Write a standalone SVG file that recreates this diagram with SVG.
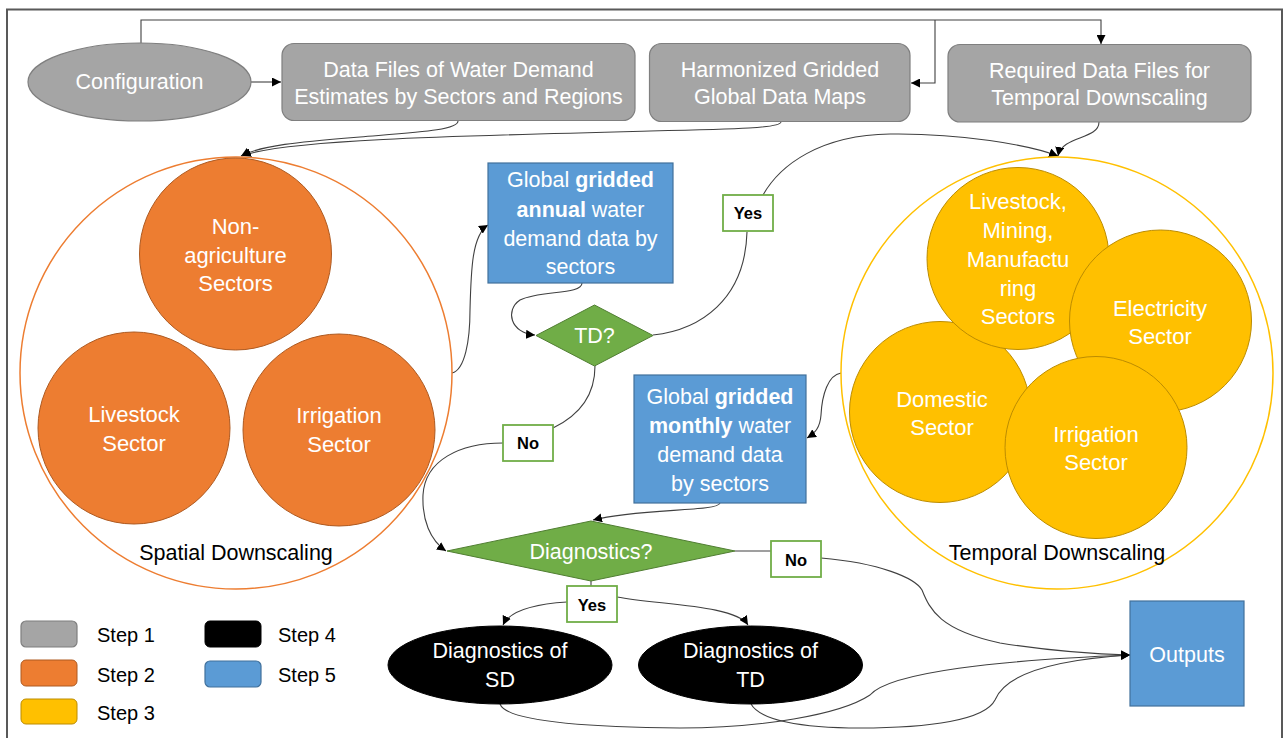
<svg xmlns="http://www.w3.org/2000/svg" width="1286" height="738" viewBox="0 0 1286 738">
<defs>
<marker id="arr" viewBox="0 0 10 10" refX="10" refY="5" markerWidth="9" markerHeight="9" markerUnits="userSpaceOnUse" orient="auto">
<path d="M0,0 L10,5 L0,10 z" fill="#000"/>
</marker>
<style>
text{font-family:"Liberation Sans",Arial,sans-serif;text-anchor:middle}
.w{fill:#fff;font-size:21.5px}
.c{fill:#fff;font-size:22px}
.k{fill:#000;font-size:21.5px}
.lb{fill:#000;font-size:16.5px;font-weight:bold}
.lg{fill:#000;font-size:20px;text-anchor:start}
.gray{fill:#A5A5A5;stroke:#7F7F7F;stroke-width:1.2}
.or{fill:#ED7D31;stroke:#AE5A21;stroke-width:1}
.ye{fill:#FFC000;stroke:#BC8C00;stroke-width:1}
.bl{fill:#5B9BD5;stroke:#41719C;stroke-width:1.2}
.gr{fill:#70AD47;stroke:#507E32;stroke-width:1}
.blk{fill:#000;stroke:#000;stroke-width:1}
.lab{fill:#fff;stroke:#70AD47;stroke-width:1.8}
.cn{fill:none;stroke:#404040;stroke-width:1.1}
.ca{fill:none;stroke:#404040;stroke-width:1.1;marker-end:url(#arr)}
</style>
</defs>
<rect x="0" y="0" width="1286" height="738" fill="#fff"/>
<rect x="7" y="9.5" width="1275" height="740" fill="none" stroke="#595959" stroke-width="2"/>

<g id="connectors">
<path class="ca" d="M251,82 H281"/>
<path class="ca" d="M141,43 V20 H1101 V44"/>
<path class="ca" d="M935,20 V83 H911"/>
<path class="ca" d="M458,121 C458,130 420,132 360,137 C300,142 262,145 241,156"/>
<path class="ca" d="M781,122 C780,128 740,129 650,131 C450,136 282,140 242,156"/>
<path class="ca" d="M1099,122 C1099,140 1062,135 1058,156"/>
<path class="ca" d="M452,373 C465,370 470,340 470,310 C471,270 472,235 488,225"/>
<path class="ca" d="M582,283 C582,295 540,290 520,300 C505,310 510,333 535,335"/>
<path class="cn" d="M653,335 C700,330 745,300 747,232"/>
<path class="ca" d="M763,195 C780,165 820,135 890,134 C960,133 1030,145 1058,156"/>
<path class="cn" d="M595,366 C595,395 580,415 553,428"/>
<path class="ca" d="M503,443 C460,443 425,460 423,495 C422,520 430,540 446,551"/>
<path class="ca" d="M841,373 C828,375 822,395 821,415 C820,428 815,433 807,438"/>
<path class="ca" d="M720,503 C718,512 640,508 593,520"/>
<path class="cn" d="M591,581 V586"/>
<path class="ca" d="M567,602 C535,604 510,610 503,625"/>
<path class="ca" d="M617,597 C660,605 735,605 748,625"/>
<path class="cn" d="M735,551 H771"/>
<path class="ca" d="M821,558 C880,563 915,578 922,590 C930,610 940,630 1000,643 C1050,651 1090,654 1130,655"/>
<path class="ca" d="M500,704 C505,718 560,727 680,728 C760,728 840,715 870,695 C890,672 1000,660 1130,655"/>
<path class="ca" d="M751,704 C760,720 800,728 860,728 C930,728 985,720 995,700 C1005,675 1050,660 1130,655"/>
</g>

<g id="configuration">
<ellipse class="gray" cx="139.5" cy="82" rx="111.5" ry="39"/>
<text class="w" x="139.5" y="89">Configuration</text>
</g>
<g id="data-files">
<rect class="gray" x="282" y="43.5" width="353" height="77" rx="12"/>
<text class="w" x="458.5" y="77">Data Files of Water Demand</text>
<text class="w" x="458.5" y="104">Estimates by Sectors and Regions</text>
</g>
<g id="harmonized">
<rect class="gray" x="649.5" y="43.5" width="260.5" height="78" rx="12"/>
<text class="w" x="780" y="77">Harmonized Gridded</text>
<text class="w" x="780" y="104">Global Data Maps</text>
</g>
<g id="required">
<rect class="gray" x="948" y="44.5" width="303" height="77.5" rx="12"/>
<text class="w" x="1099.5" y="78">Required Data Files for</text>
<text class="w" x="1099.5" y="105">Temporal Downscaling</text>
</g>

<g id="spatial-downscaling">
<circle cx="236" cy="373" r="216" fill="none" stroke="#ED7D31" stroke-width="1.5"/>
<text class="k" x="236" y="560">Spatial Downscaling</text>
</g>
<g id="non-agriculture">
<circle class="or" cx="235.5" cy="254" r="96"/>
<text class="c" x="235.5" y="234">Non-</text>
<text class="c" x="235.5" y="263">agriculture</text>
<text class="c" x="235.5" y="291">Sectors</text>
</g>
<g id="livestock-sd">
<circle class="or" cx="134" cy="428" r="96"/>
<text class="c" x="134" y="422">Livestock</text>
<text class="c" x="134" y="451">Sector</text>
</g>
<g id="irrigation-sd">
<circle class="or" cx="339" cy="430" r="96"/>
<text class="c" x="339" y="423">Irrigation</text>
<text class="c" x="339" y="452">Sector</text>
</g>

<g id="temporal-downscaling">
<circle cx="1057" cy="373" r="216" fill="none" stroke="#FFC000" stroke-width="1.5"/>
<text class="k" x="1057" y="560">Temporal Downscaling</text>
</g>
<g id="domestic">
<circle class="ye" cx="940" cy="412" r="90.5"/>
<text class="c" x="942" y="407">Domestic</text>
<text class="c" x="942" y="435">Sector</text>
</g>
<g id="livestock-mining">
<circle class="ye" cx="1018" cy="258.5" r="91"/>
<text class="c" x="1018" y="209">Livestock,</text>
<text class="c" x="1018" y="238">Mining,</text>
<text class="c" x="1018" y="267">Manufactu</text>
<text class="c" x="1018" y="296">ring</text>
<text class="c" x="1018" y="324">Sectors</text>
</g>
<g id="electricity">
<circle class="ye" cx="1160.5" cy="321" r="91"/>
<text class="c" x="1160" y="316">Electricity</text>
<text class="c" x="1160" y="344">Sector</text>
</g>
<g id="irrigation-td">
<circle class="ye" cx="1096" cy="447.5" r="91"/>
<text class="c" x="1096" y="442">Irrigation</text>
<text class="c" x="1096" y="470">Sector</text>
</g>

<g id="annual">
<rect class="bl" x="488" y="163" width="185" height="120"/>
<text class="w" x="580.5" y="187">Global <tspan font-weight="bold">gridded</tspan></text>
<text class="w" x="580.5" y="217"><tspan font-weight="bold">annual</tspan> water</text>
<text class="w" x="580.5" y="246">demand data by</text>
<text class="w" x="580.5" y="274">sectors</text>
</g>
<g id="td-decision">
<polygon class="gr" points="536,335.5 594.5,305 653,335.5 594.5,366"/>
<text class="w" x="594.5" y="343">TD?</text>
</g>
<g id="yes-td">
<rect class="lab" x="723" y="195" width="50" height="36"/>
<text class="lb" x="748" y="219">Yes</text>
</g>
<g id="no-td">
<rect class="lab" x="503" y="425" width="50" height="36"/>
<text class="lb" x="528" y="449">No</text>
</g>
<g id="monthly">
<rect class="bl" x="634" y="375" width="172" height="128"/>
<text class="w" x="720" y="404">Global <tspan font-weight="bold">gridded</tspan></text>
<text class="w" x="720" y="433"><tspan font-weight="bold">monthly</tspan> water</text>
<text class="w" x="720" y="462">demand data</text>
<text class="w" x="720" y="491">by sectors</text>
</g>
<g id="diagnostics-decision">
<polygon class="gr" points="447,551 591,521 735,551 591,581"/>
<text class="w" x="591" y="559">Diagnostics?</text>
</g>
<g id="yes-diag">
<rect class="lab" x="567" y="586" width="50" height="36"/>
<text class="lb" x="592" y="611">Yes</text>
</g>
<g id="no-diag">
<rect class="lab" x="771" y="541" width="50" height="36"/>
<text class="lb" x="796" y="566">No</text>
</g>
<g id="diag-sd">
<ellipse class="blk" cx="500" cy="665" rx="112" ry="39"/>
<text class="w" x="500" y="658">Diagnostics of</text>
<text class="w" x="500" y="687">SD</text>
</g>
<g id="diag-td">
<ellipse class="blk" cx="750.5" cy="665" rx="112" ry="39"/>
<text class="w" x="750.5" y="658">Diagnostics of</text>
<text class="w" x="750.5" y="687">TD</text>
</g>
<g id="outputs">
<rect class="bl" x="1130" y="601" width="114" height="105"/>
<text class="w" x="1187" y="662">Outputs</text>
</g>

<g id="legend">
<rect class="gray" x="21" y="621" width="56" height="26" rx="5"/>
<text class="lg" x="97" y="642">Step 1</text>
<rect class="or" x="21" y="660" width="56" height="26" rx="5"/>
<text class="lg" x="97" y="682">Step 2</text>
<rect class="ye" x="21" y="699" width="56" height="25" rx="5"/>
<text class="lg" x="97" y="720">Step 3</text>
<rect class="blk" x="205" y="621" width="56" height="26" rx="5"/>
<text class="lg" x="278" y="642">Step 4</text>
<rect class="bl" x="205" y="661" width="56" height="26" rx="5"/>
<text class="lg" x="278" y="682">Step 5</text>
</g>
</svg>
